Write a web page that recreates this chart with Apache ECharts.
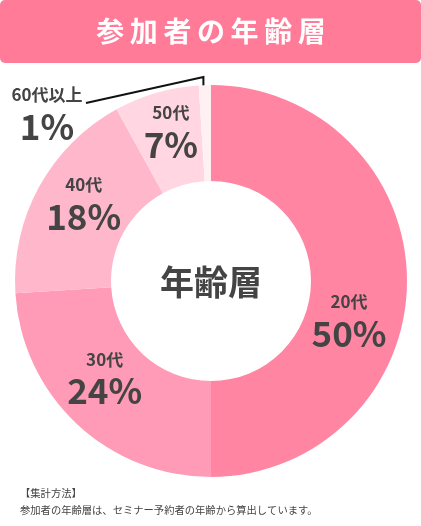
<!DOCTYPE html>
<html>
<head>
<meta charset="utf-8">
<script src="https://cdn.jsdelivr.net/npm/echarts@6/dist/echarts.min.js"></script>
<style>
html,body{margin:0;padding:0;background:#fff;}
#c{width:421px;height:526px;}
</style>
</head>
<body>
<div id="c"></div>
<script>
const categories = ['20代', '30代', '40代', '50代', '60代以上'];
const values = [50, 24, 18, 7, 1];
const colors = ['#ff85a3', '#ff9bb6', '#ffb7cb', '#ffd6e1', '#fff0f4'];
const titleText = '参加者の年齢層';
const centerText = '年齢層';
const noteLines = ['【集計方法】', '参加者の年齢層は、セミナー予約者の年齢から算出しています。'];

const FONT = '"Noto Sans CJK JP", "Noto Sans", sans-serif';
const CX = 211, CY = 281, R0 = 100, R1 = 196;
const labelOffsets = [[-13, 40], [-3, -13], [5, -5], [2, -4], [0, 0]];

const chart = echarts.init(document.getElementById('c'), null, {renderer: 'canvas'});

const data = categories.map((name, i) => {
  const item = {
    name: name,
    value: values[i],
    itemStyle: {color: colors[i]},
    label: {offset: labelOffsets[i]}
  };
  if (i === categories.length - 1) {
    item.label = {position: 'outside', show: true};
    item.labelLine = {show: true, lineStyle: {color: '#111', width: 2}};
  }
  return item;
});

const total = values.reduce((a, b) => a + b, 0);

chart.setOption({
  animation: false,
  textStyle: {fontFamily: FONT},
  graphic: [
    {type: 'rect', shape: {x: 0, y: 0, width: 421, height: 63, r: 5}, style: {fill: '#ff7b98'}},
    {type: 'text', x: 211, y: 31, style: {
      text: titleText.split('').join('\u2009'),
      fill: '#fff', fontSize: 28, fontWeight: 'bold', fontFamily: FONT,
      align: 'center', verticalAlign: 'middle'
    }},
    {type: 'text', x: CX, y: CY + 1, z: 10, style: {
      text: centerText, fill: '#444', fontSize: 34, fontWeight: 'bold', fontFamily: FONT,
      align: 'center', verticalAlign: 'middle'
    }},
    {type: 'text', x: 20, y: 485, style: {
      text: noteLines.join('\n'), fill: '#444', fontSize: 10.3, lineHeight: 17, fontFamily: FONT,
      align: 'left', verticalAlign: 'top'
    }}
  ],
  series: [{
    type: 'pie',
    center: [CX, CY],
    radius: [R0, R1],
    startAngle: 90,
    clockwise: true,
    avoidLabelOverlap: false,
    emphasis: {disabled: true},
    itemStyle: {borderWidth: 0},
    label: {
      show: true,
      position: 'inside',
      formatter: p => '{a|' + p.name + '}\n{p|' + p.value + '%}',
      rich: {
        a: {fontSize: 17, fontWeight: 'bold', color: '#444', lineHeight: 26, fontFamily: FONT, align: 'center'},
        p: {fontSize: 35, fontWeight: 'bold', color: '#444', lineHeight: 38, fontFamily: FONT, align: 'center'}
      }
    },
    labelLine: {show: false},
    labelLayout: function (params) {
      if (params.dataIndex !== categories.length - 1) return {};
      const before = values.slice(0, params.dataIndex).reduce((a, b) => a + b, 0);
      const mid = (before + values[params.dataIndex] / 2) / total * 2 * Math.PI;
      const px = CX + Math.sin(mid) * (R1 - 18) - 2;
      const py = CY - Math.cos(mid) * (R1 - 18);
      const topY = CY - R1 - 8;
      const endX = 86, endY = py;
      return {
        x: 47, y: 114, align: 'center', verticalAlign: 'middle',
        labelLinePoints: [[px, py], [px, topY], [endX, endY]]
      };
    },
    data: data
  }]
});
</script>
</body>
</html>
